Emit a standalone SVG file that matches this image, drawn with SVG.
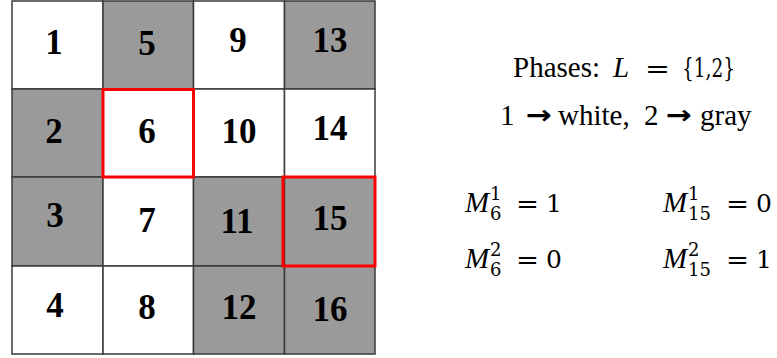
<svg xmlns="http://www.w3.org/2000/svg" width="777" height="358" viewBox="0 0 777 358">
<style>
.cw{fill:#ffffff;stroke:#3a3a3a;stroke-width:1.5}
.cg{fill:#9a9a9a;stroke:#3a3a3a;stroke-width:1.5}
.n{font-family:"Liberation Serif","Times New Roman",serif;font-weight:bold;font-size:35px;fill:#000;text-anchor:middle}
.hl{fill:none;stroke:#ff0000;stroke-width:3}
.t{font-family:"Liberation Serif","Times New Roman",serif;font-size:29px;fill:#000}
.ar{font-family:"DejaVu Sans",sans-serif;font-weight:bold;font-size:26px;fill:#000}
.mv{font-family:"Liberation Serif","Times New Roman",serif;font-style:italic;font-size:29px;fill:#000}
.md{font-family:"DejaVu Serif",serif;font-size:25px;fill:#000}
.s{font-family:"DejaVu Serif",serif;font-size:18px;fill:#000}
</style>
<rect width="777" height="358" fill="#ffffff"/>
<g id="grid">
<g id="cell1"><rect class="cw" x="12" y="1" width="91" height="88"/><text class="n" x="54" y="54">1</text></g>
<g id="cell5"><rect class="cg" x="103" y="1" width="90.5" height="88"/><text class="n" x="147" y="55">5</text></g>
<g id="cell9"><rect class="cw" x="193.5" y="1" width="91" height="88"/><text class="n" x="238" y="52">9</text></g>
<g id="cell13"><rect class="cg" x="284.5" y="1" width="90.5" height="88"/><text class="n" x="330" y="52">13</text></g>

<g id="cell2"><rect class="cg" x="12" y="89" width="91" height="88"/><text class="n" x="54" y="143">2</text></g>
<g id="cell6"><rect class="cw" x="103" y="89" width="90.5" height="88"/><text class="n" x="147" y="143">6</text></g>
<g id="cell10"><rect class="cw" x="193.5" y="89" width="91" height="88"/><text class="n" x="239" y="143">10</text></g>
<g id="cell14"><rect class="cw" x="284.5" y="89" width="90.5" height="88"/><text class="n" x="330" y="140">14</text></g>

<g id="cell3"><rect class="cg" x="12" y="177" width="91" height="89"/><text class="n" x="55" y="227">3</text></g>
<g id="cell7"><rect class="cw" x="103" y="177" width="90.5" height="89"/><text class="n" x="147" y="232">7</text></g>
<g id="cell11"><rect class="cg" x="193.5" y="177" width="91" height="89"/><text class="n" x="237" y="233">11</text></g>
<g id="cell15"><rect class="cg" x="284.5" y="177" width="90.5" height="89"/><text class="n" x="330" y="230">15</text></g>

<g id="cell4"><rect class="cw" x="12" y="266" width="91" height="88"/><text class="n" x="55" y="317">4</text></g>
<g id="cell8"><rect class="cw" x="103" y="266" width="90.5" height="88"/><text class="n" x="147" y="319">8</text></g>
<g id="cell12"><rect class="cg" x="193.5" y="266" width="91" height="88"/><text class="n" x="239" y="319">12</text></g>
<g id="cell16"><rect class="cg" x="284.5" y="266" width="90.5" height="88"/><text class="n" x="330" y="321">16</text></g>

<g id="highlight6"><rect class="hl" x="103" y="89.5" width="90.5" height="87.5"/></g>
<g id="highlight15"><rect class="hl" x="283" y="177" width="92" height="89"/></g>
</g>

<g id="legend">
<text class="t" x="513" y="77">Phases:</text>
<text class="mv" x="613" y="77">L</text>
<text class="md" x="645" y="77" textLength="25" lengthAdjust="spacingAndGlyphs">=</text>
<text class="md" x="682" y="77" textLength="53" lengthAdjust="spacingAndGlyphs" style="font-size:26px">{1,2}</text>

<text class="t" x="500" y="125">1</text>
<text class="ar" x="526" y="124" textLength="26" lengthAdjust="spacingAndGlyphs">→</text>
<text class="t" x="558" y="125">white,</text>
<text class="t" x="644" y="125">2</text>
<text class="ar" x="666" y="124" textLength="26" lengthAdjust="spacingAndGlyphs">→</text>
<text class="t" x="700" y="125">gray</text>
</g>

<g id="math">
<text class="mv" x="465" y="212">M</text>
<text class="s" x="490" y="200">1</text>
<text class="s" x="490" y="220">6</text>
<text class="md" x="516" y="212" textLength="23" lengthAdjust="spacingAndGlyphs">=</text>
<text class="md" x="546" y="212">1</text>

<text class="mv" x="465" y="268">M</text>
<text class="s" x="490" y="256">2</text>
<text class="s" x="490" y="276">6</text>
<text class="md" x="516" y="268" textLength="23" lengthAdjust="spacingAndGlyphs">=</text>
<text class="md" x="546" y="268">0</text>

<text class="mv" x="663" y="212">M</text>
<text class="s" x="688" y="200">1</text>
<text class="s" x="688" y="220">15</text>
<text class="md" x="726" y="212" textLength="23" lengthAdjust="spacingAndGlyphs">=</text>
<text class="md" x="756" y="212">0</text>

<text class="mv" x="663" y="268">M</text>
<text class="s" x="688" y="256">2</text>
<text class="s" x="688" y="276">15</text>
<text class="md" x="726" y="268" textLength="23" lengthAdjust="spacingAndGlyphs">=</text>
<text class="md" x="756" y="268">1</text>
</g>
</svg>
